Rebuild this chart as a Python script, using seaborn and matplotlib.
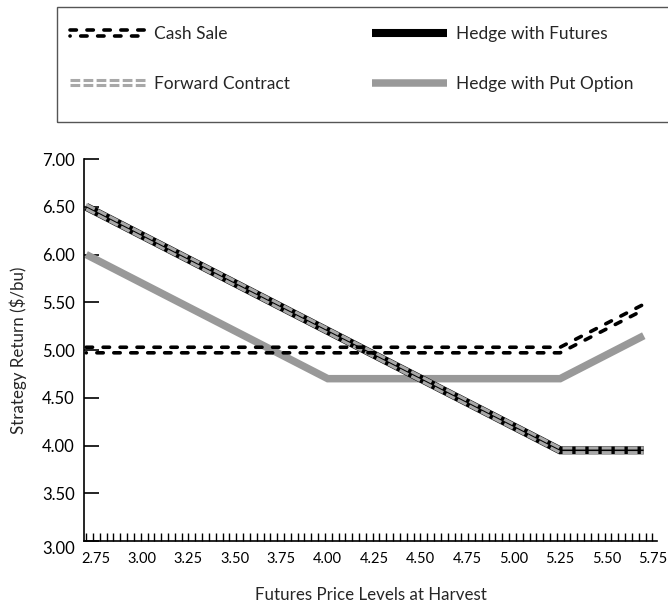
import matplotlib
matplotlib.use("Agg")
import matplotlib.pyplot as plt
import matplotlib.patheffects as pe
from matplotlib.patches import Rectangle
import numpy as np
import seaborn as sns

# breakpoints of each strategy's return line ($/bu) vs futures price at harvest
PRICE = [2.70, 4.00, 5.25, 5.70]
CASH_SALE = [5.00, 5.00, 5.00, 5.45]
FORWARD = [6.50, 5.20, 3.95, 3.95]
FUTURES = [6.50, 5.20, 3.95, 3.95]
PUT_OPTION = [6.00, 4.70, 4.70, 5.15]

X_TICKS = [2.75, 3.00, 3.25, 3.50, 3.75, 4.00, 4.25, 4.50, 4.75, 5.00, 5.25, 5.50, 5.75]
Y_TICKS = [3.00, 3.50, 4.00, 4.50, 5.00, 5.50, 6.00, 6.50, 7.00]

OUT = "out.png"


def double_dash(color, lw, sep, dash, gap, shift, cap="butt"):
    """Two parallel dashed strokes, the look of the old print chart."""
    return [
        pe.Stroke(offset=(0, sep), linewidth=lw, foreground=color, capstyle=cap,
                  dashes={"dash_offset": 0, "dash_list": [dash, gap]}),
        pe.Stroke(offset=(0, -sep), linewidth=lw, foreground=color, capstyle=cap,
                  dashes={"dash_offset": shift, "dash_list": [dash, gap]}),
    ]


sns.set_theme(style="white")
plt.rcParams["font.family"] = ["Lato", "DejaVu Sans"]

fig = plt.figure(figsize=(6.68, 6.07), dpi=100)
ax = fig.add_axes([0.1262, 0.1087, 0.857, 0.6293])

sns.lineplot(x=PRICE, y=PUT_OPTION, color="#999999", linewidth=5.4,
             label="Hedge with Put Option", ax=ax, zorder=2)
sns.lineplot(x=PRICE, y=FUTURES, color="black", linewidth=5.8,
             label="Hedge with Futures", ax=ax, zorder=3)
sns.lineplot(x=PRICE, y=FORWARD, color="#a8a8a8", linewidth=2.2,
             label="Forward Contract", ax=ax, zorder=4)
sns.lineplot(x=PRICE, y=CASH_SALE, color="black", linewidth=2.6,
             label="Cash Sale", ax=ax, zorder=5)

put_line, fut_line, fwd_line, cash_line = ax.lines[-4:]
for ln in (put_line, fut_line):
    ln.set_solid_capstyle("butt")
    ln.set_solid_joinstyle("miter")
fwd_line.set_path_effects(double_dash("#a8a8a8", 2.2, 1.65, 7.0, 2.4, 0))
cash_line.set_path_effects(double_dash("black", 2.6, 2.0, 4.6, 7.6, 4.5, cap="round"))

handles, labels = ax.get_legend_handles_labels()
ax.get_legend().remove()
lookup = dict(zip(labels, handles))

ax.set_xlim(2.69, 5.77)
ax.set_ylim(3.0, 7.0)
ax.set_xticks(X_TICKS)
ax.set_xticklabels([f"{v:.2f}" for v in X_TICKS])
ax.set_xticks(np.arange(2.70, 5.76, 0.0367), minor=True)
ax.set_yticks(Y_TICKS)
ax.set_yticklabels([f"{v:.2f}" for v in Y_TICKS])
ax.get_yticklabels()[0].set_verticalalignment("top")

for side in ["top", "right"]:
    ax.spines[side].set_visible(False)
for side in ["left", "bottom"]:
    ax.spines[side].set_color("black")
    ax.spines[side].set_linewidth(1.2)

ax.tick_params(axis="y", direction="in", length=11, width=1.2, labelsize=12,
               pad=7, colors="black", left=True)
ax.tick_params(axis="x", which="major", length=0, labelsize=10.5, pad=8, colors="black")
ax.tick_params(axis="x", which="minor", direction="in", length=5.5, width=1,
               bottom=True, colors="black")

ax.set_xlabel("Futures Price Levels at Harvest", fontsize=12.2, labelpad=15)
ax.set_ylabel(r"Strategy Return (\$/bu)", fontsize=12.2, labelpad=11)

# legend box runs off the right edge, as in the source figure
fig.patches.append(Rectangle((57 / 668, 1 - 122 / 607), 1.0, 115 / 607,
                             transform=fig.transFigure, fill=False,
                             edgecolor="#555555", linewidth=1.0))

common = dict(loc="upper left", frameon=False, fontsize=12.5, handlelength=4.3,
              handletextpad=0.55, labelspacing=1.95, borderpad=0, borderaxespad=0)
fig.legend([lookup["Cash Sale"], lookup["Forward Contract"]],
           ["Cash Sale", "Forward Contract"],
           bbox_to_anchor=(70 / 668, 1 - 26 / 607), **common)
fig.legend([lookup["Hedge with Futures"], lookup["Hedge with Put Option"]],
           ["Hedge with Futures", "Hedge with Put Option"],
           bbox_to_anchor=(372 / 668, 1 - 26 / 607), **common)

plt.savefig(OUT, dpi=100)
plt.close(fig)
print(f"saved {OUT}")
